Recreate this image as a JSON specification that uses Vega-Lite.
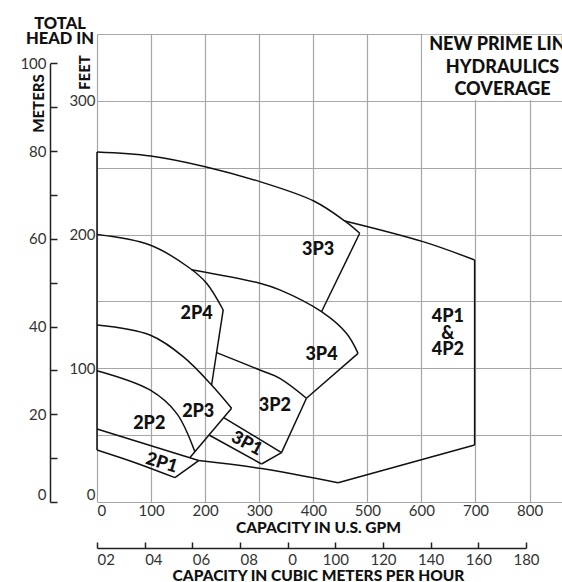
{
  "$schema": "https://vega.github.io/schema/vega-lite/v6.json",
  "width": 465,
  "height": 468,
  "autosize": {"type": "none"},
  "padding": {"left": 97, "top": 34, "right": 0, "bottom": 80},
  "background": "white",
  "config": {
    "view": {"stroke": null},
    "font": "Lato",
    "axis": {"labelFont": "Lato", "titleFont": "Lato", "labelColor": "#333", "titleColor": "#111"}
  },
  "title": {
    "text": ["TOTAL", "HEAD IN"],
    "anchor": "start",
    "align": "center",
    "frame": "group",
    "dx": -37,
    "dy": 29,
    "offset": 0,
    "baseline": "bottom",
    "fontSize": 16.5,
    "fontWeight": 900,
    "lineHeight": 15,
    "color": "#111",
    "font": "Lato"
  },
  "datasets": {
    "segs": [
      {"s": "left", "i": 0, "gpm": 0, "ft": 38.9},
      {"s": "left", "i": 1, "gpm": 0, "ft": 261.8},
      {"s": "top", "i": 0, "gpm": 0, "ft": 261.8},
      {"s": "top", "i": 1, "gpm": 99.2, "ft": 258.8},
      {"s": "top", "i": 2, "gpm": 200.1, "ft": 250.8},
      {"s": "top", "i": 3, "gpm": 301.2, "ft": 239.6},
      {"s": "top", "i": 4, "gpm": 400.9, "ft": 225.1},
      {"s": "top", "i": 5, "gpm": 458.2, "ft": 210.2},
      {"s": "top", "i": 6, "gpm": 485.9, "ft": 201},
      {"s": "p3r", "i": 0, "gpm": 485.9, "ft": 201},
      {"s": "p3r", "i": 1, "gpm": 415.2, "ft": 142.3},
      {"s": "q4top", "i": 0, "gpm": 458.2, "ft": 210.2},
      {"s": "q4top", "i": 1, "gpm": 602.9, "ft": 194.7},
      {"s": "q4top", "i": 2, "gpm": 698.4, "ft": 181},
      {"s": "q4r", "i": 0, "gpm": 698.4, "ft": 181},
      {"s": "q4r", "i": 1, "gpm": 698.4, "ft": 42.6},
      {"s": "q4b", "i": 0, "gpm": 698.4, "ft": 42.6},
      {"s": "q4b", "i": 1, "gpm": 445.8, "ft": 14.4},
      {"s": "bot", "i": 0, "gpm": 445.8, "ft": 14.4},
      {"s": "bot", "i": 1, "gpm": 301.2, "ft": 25.2},
      {"s": "bot", "i": 2, "gpm": 188, "ft": 31},
      {"s": "p1top", "i": 0, "gpm": 0, "ft": 54.6},
      {"s": "p1top", "i": 1, "gpm": 188, "ft": 31},
      {"s": "p1bot", "i": 0, "gpm": 0, "ft": 38.9},
      {"s": "p1bot", "i": 1, "gpm": 72, "ft": 29.2},
      {"s": "p1bot", "i": 2, "gpm": 144.1, "ft": 18.2},
      {"s": "p1r", "i": 0, "gpm": 144.1, "ft": 18.2},
      {"s": "p1r", "i": 1, "gpm": 188, "ft": 31},
      {"s": "p2", "i": 0, "gpm": 0, "ft": 98.2},
      {"s": "p2", "i": 1, "gpm": 97.9, "ft": 83.8},
      {"s": "p2", "i": 2, "gpm": 147.3, "ft": 66.3},
      {"s": "p2", "i": 3, "gpm": 181, "ft": 37.5},
      {"s": "p23", "i": 0, "gpm": 0, "ft": 132.4},
      {"s": "p23", "i": 1, "gpm": 97.9, "ft": 124.9},
      {"s": "p23", "i": 2, "gpm": 159.4, "ft": 108.7},
      {"s": "p23", "i": 3, "gpm": 211.9, "ft": 87.5},
      {"s": "p23", "i": 4, "gpm": 248.9, "ft": 70.1},
      {"s": "p23r", "i": 0, "gpm": 248.9, "ft": 70.1},
      {"s": "p23r", "i": 1, "gpm": 172, "ft": 33.2},
      {"s": "p24", "i": 0, "gpm": 0, "ft": 200},
      {"s": "p24", "i": 1, "gpm": 97.9, "ft": 192.2},
      {"s": "p24", "i": 2, "gpm": 171.8, "ft": 174.8},
      {"s": "p24", "i": 3, "gpm": 202.7, "ft": 163.6},
      {"s": "p24", "i": 4, "gpm": 233.4, "ft": 143.6},
      {"s": "p24r", "i": 0, "gpm": 233.4, "ft": 143.6},
      {"s": "p24r", "i": 1, "gpm": 211.9, "ft": 87.5},
      {"s": "p34", "i": 0, "gpm": 175, "ft": 173.7},
      {"s": "p34", "i": 1, "gpm": 301.2, "ft": 163.6},
      {"s": "p34", "i": 2, "gpm": 338.1, "ft": 158.6},
      {"s": "p34", "i": 3, "gpm": 415.2, "ft": 142.3},
      {"s": "p34", "i": 4, "gpm": 461.3, "ft": 126.2},
      {"s": "p34", "i": 5, "gpm": 482.8, "ft": 111.2},
      {"s": "p34r", "i": 0, "gpm": 482.8, "ft": 111.2},
      {"s": "p34r", "i": 1, "gpm": 387.4, "ft": 77.6},
      {"s": "p32", "i": 0, "gpm": 221.2, "ft": 111.7},
      {"s": "p32", "i": 1, "gpm": 301.2, "ft": 98.7},
      {"s": "p32", "i": 2, "gpm": 338.1, "ft": 92.5},
      {"s": "p32", "i": 3, "gpm": 387.4, "ft": 77.6},
      {"s": "p32r", "i": 0, "gpm": 387.4, "ft": 77.6},
      {"s": "p32r", "i": 1, "gpm": 341.3, "ft": 36.9},
      {"s": "p31t", "i": 0, "gpm": 234.3, "ft": 63.1},
      {"s": "p31t", "i": 1, "gpm": 341.3, "ft": 36.9},
      {"s": "p31b", "i": 0, "gpm": 207.2, "ft": 50.1},
      {"s": "p31b", "i": 1, "gpm": 304.3, "ft": 28.4},
      {"s": "p31r", "i": 0, "gpm": 304.3, "ft": 28.4},
      {"s": "p31r", "i": 1, "gpm": 341.3, "ft": 36.9}
    ],
    "labels": [
      {"t": "3P3", "gpm": 408.9, "ft": 188.5, "rot": "none"},
      {"t": "2P4", "gpm": 184.2, "ft": 140.6, "rot": "none"},
      {"t": "3P4", "gpm": 415.2, "ft": 110, "rot": "none"},
      {"t": "4P1", "gpm": 649, "ft": 138.2, "rot": "none"},
      {"t": "&", "gpm": 649, "ft": 125.9, "rot": "none"},
      {"t": "4P2", "gpm": 649, "ft": 113.7, "rot": "none"},
      {"t": "2P3", "gpm": 187.2, "ft": 67.5, "rot": "none"},
      {"t": "3P2", "gpm": 328.9, "ft": 71.8, "rot": "none"},
      {"t": "2P2", "gpm": 96.6, "ft": 58.3, "rot": "none"},
      {"t": "3P1", "gpm": 276.6, "ft": 43.4, "rot": "steep"},
      {"t": "2P1", "gpm": 119.5, "ft": 28.9, "rot": "shallow"}
    ],
    "heading": [
      {"t": "NEW PRIME LINE", "gpm": 750, "ft": 341.8},
      {"t": "HYDRAULICS", "gpm": 750, "ft": 324.6},
      {"t": "COVERAGE", "gpm": 750, "ft": 308.2}
    ],
    "box": [
      {"gpm": 601.5, "gpm2": 860, "ft": 300.6, "ft2": 349.4}
    ]
  },
  "layer": [
    {
      "layer": [
        {
          "data": {"name": "box"},
          "mark": {"type": "rect", "fill": "white"},
          "encoding": {
            "x": {"field": "gpm", "type": "quantitative"},
            "x2": {"field": "gpm2"},
            "y": {"field": "ft", "type": "quantitative"},
            "y2": {"field": "ft2"}
          }
        },
        {
          "data": {"name": "segs"},
          "mark": {"type": "line", "color": "#111", "strokeWidth": 1.5, "interpolate": "catmull-rom"},
          "encoding": {
            "x": {
              "field": "gpm",
              "type": "quantitative",
              "scale": {"domain": [0, 860], "nice": false, "zero": false},
              "axis": {
                "orient": "bottom",
                "values": [0, 100, 200, 300, 400, 500, 600, 700, 800],
                "grid": true,
                "gridColor": "#a6a6a6",
                "gridWidth": 1.2,
                "domain": false,
                "ticks": false,
                "labelPadding": 1,
                "labelFontSize": 15,
                "title": "CAPACITY IN U.S. GPM",
                "titleFontSize": 15.5,
                "titleFontWeight": 900,
                "titlePadding": 2,
                "titleX": 221,
                "titleAlign": "center"
              }
            },
            "y": {
              "field": "ft",
              "type": "quantitative",
              "scale": {"domain": [0, 350], "nice": false, "zero": false},
              "axis": {
                "orient": "left",
                "values": [0, 25, 50, 75, 100, 125, 150, 175, 200, 225, 250, 275, 300, 325, 350],
                "labelExpr": "datum.value % 100 === 0 ? datum.label : ''",
                "grid": true,
                "gridColor": "#a6a6a6",
                "gridWidth": 1.2,
                "domain": false,
                "ticks": false,
                "labelPadding": 2,
                "labelFontSize": 15,
                "labelBaseline": {"condition": {"test": "datum.value === 0", "value": "bottom"}, "value": "middle"},
                "title": "FEET",
                "titleFontSize": 15,
                "titleFontWeight": 900,
                "titleAngle": -90,
                "titleAlign": "center",
                "titleBaseline": "middle",
                "titleX": -13,
                "titleY": 38
              }
            },
            "detail": {"field": "s"},
            "order": {"field": "i", "type": "quantitative"}
          }
        },
        {
          "data": {"name": "labels"},
          "transform": [{"filter": "datum.rot === 'none'"}],
          "mark": {"type": "text", "fontSize": 18, "fontWeight": 900, "color": "#111", "align": "center", "baseline": "middle"},
          "encoding": {
            "x": {"field": "gpm", "type": "quantitative"},
            "y": {"field": "ft", "type": "quantitative"},
            "text": {"field": "t"}
          }
        },
        {
          "data": {"name": "labels"},
          "transform": [{"filter": "datum.rot === 'steep'"}],
          "mark": {"type": "text", "fontSize": 18, "fontWeight": 900, "color": "#111", "align": "center", "baseline": "middle", "angle": 28},
          "encoding": {
            "x": {"field": "gpm", "type": "quantitative"},
            "y": {"field": "ft", "type": "quantitative"},
            "text": {"field": "t"}
          }
        },
        {
          "data": {"name": "labels"},
          "transform": [{"filter": "datum.rot === 'shallow'"}],
          "mark": {"type": "text", "fontSize": 18, "fontWeight": 900, "color": "#111", "align": "center", "baseline": "middle", "angle": 17},
          "encoding": {
            "x": {"field": "gpm", "type": "quantitative"},
            "y": {"field": "ft", "type": "quantitative"},
            "text": {"field": "t"}
          }
        },
        {
          "data": {"name": "heading"},
          "mark": {"type": "text", "fontSize": 18, "fontWeight": 900, "color": "#111", "align": "center", "baseline": "middle"},
          "encoding": {
            "x": {"field": "gpm", "type": "quantitative"},
            "y": {"field": "ft", "type": "quantitative"},
            "text": {"field": "t"}
          }
        }
      ]
    },
    {
      "data": {"values": [{"m": 0}, {"m": 100}]},
      "mark": {"type": "point", "opacity": 0},
      "encoding": {
        "y": {
          "field": "m",
          "type": "quantitative",
          "scale": {"domain": [0, 100], "range": [468, 29.3], "nice": false, "zero": false},
          "axis": {
            "orient": "left",
            "offset": 47,
            "values": [0, 10, 20, 30, 40, 50, 60, 70, 80, 90, 100],
            "labelExpr": "datum.value % 20 === 0 ? datum.label : ''",
            "grid": false,
            "domain": true,
            "domainColor": "#222",
            "domainWidth": 1.5,
            "ticks": true,
            "tickColor": "#222",
            "tickWidth": 1.5,
            "tickSize": -7,
            "labelPadding": 11,
            "labelFontSize": 15,
            "labelBaseline": {"condition": {"test": "datum.value === 0", "value": "bottom"}, "value": "middle"},
            "title": "METERS",
            "titleFontSize": 15,
            "titleFontWeight": 900,
            "titleAngle": -90,
            "titleAlign": "center",
            "titleBaseline": "middle",
            "titleX": -12,
            "titleY": 69
          }
        }
      }
    },
    {
      "data": {"values": [{"q": 0}, {"q": 180}]},
      "mark": {"type": "point", "opacity": 0},
      "encoding": {
        "x": {
          "field": "q",
          "type": "quantitative",
          "scale": {"domain": [0, 180], "range": [0, 429], "nice": false, "zero": false},
          "axis": {
            "orient": "bottom",
            "offset": 46,
            "values": [0, 20, 40, 60, 80, 100, 120, 140, 160, 180],
            "labelExpr": "datum.value === 0 ? '02' : datum.value === 20 ? '04' : datum.value === 40 ? '06' : datum.value === 60 ? '08' : datum.value === 80 ? '0' : datum.label",
            "labelAlign": {"condition": {"test": "datum.value < 90", "value": "left"}, "value": "center"},
            "labelFlush": false,
            "grid": false,
            "domain": true,
            "domainColor": "#222",
            "domainWidth": 1.5,
            "ticks": true,
            "tickColor": "#222",
            "tickWidth": 1.5,
            "tickSize": -6,
            "labelPadding": 10,
            "labelFontSize": 15,
            "title": "CAPACITY IN CUBIC METERS PER HOUR",
            "titleFontSize": 15.5,
            "titleFontWeight": 900,
            "titlePadding": 1,
            "titleX": 221,
            "titleAlign": "center"
          }
        }
      }
    }
  ],
  "resolve": {"scale": {"x": "independent", "y": "independent"}}
}
